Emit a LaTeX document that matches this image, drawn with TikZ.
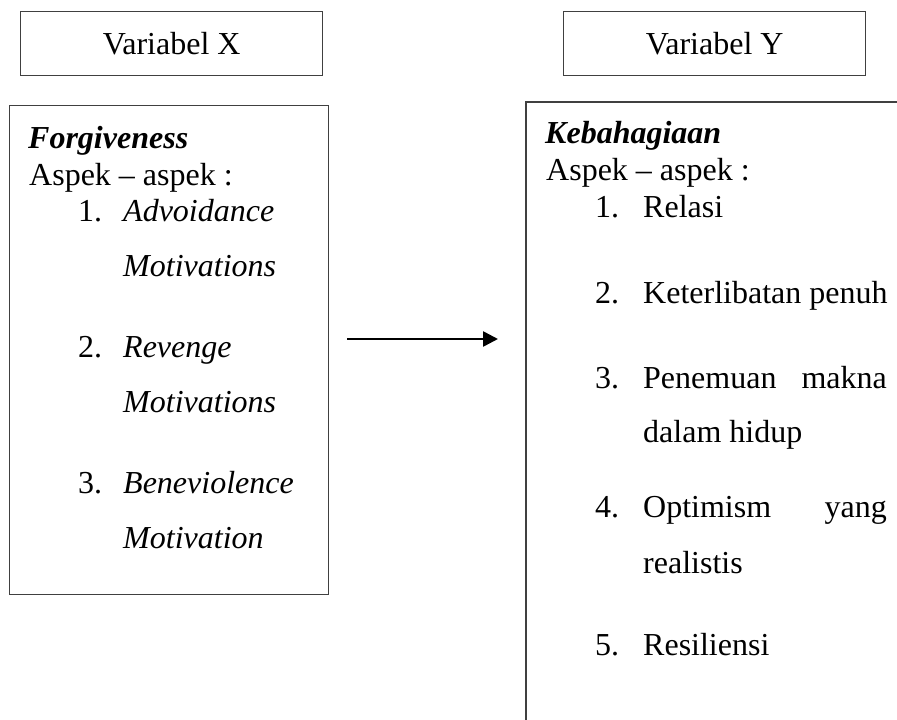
\documentclass[tikz,border=0pt]{standalone}
\usepackage{fontspec}
\setmainfont{Liberation Serif}
\usetikzlibrary{arrows.meta}
\begin{document}
\begin{tikzpicture}[x=1pt,y=-1pt,
  txt/.style={font=\fontsize{32}{38}\selectfont, inner sep=0pt, anchor=base west},
  txtr/.style={font=\fontsize{32}{38}\selectfont, inner sep=0pt, anchor=base east},
  boxline/.style={draw=black!75, line width=1.3pt},
  varbox/.style={boxline, font=\fontsize{32}{38}\selectfont, inner sep=0pt, minimum width=302pt, minimum height=64pt, anchor=north west},
  arrowline/.style={line width=2.6pt, -{Triangle[length=15pt,width=15pt]}}]
\useasboundingbox (0,0) rectangle (897,720);
% top variable boxes
\node[varbox] (vx) at (20,11) {Variabel X};
\node[varbox] (vy) at (563,11) {Variabel Y};
% left box
\node[boxline, inner sep=0pt, minimum width=319pt, minimum height=489pt, anchor=north west] (lbox) at (9,105) {};
% right box (cut at the page edges)
\coordinate (rb1) at (526,720);
\coordinate (rb2) at (526,102);
\coordinate (rb3) at (897,102);
\draw[boxline] (rb1) -- (rb2) -- (rb3);
% left texts
\node[txt] (l0) at (28,148) {\textbf{\textit{Forgiveness}}};
\node[txt] (l1) at (29,185) {Aspek – aspek :};
\node[txt] (l2n) at (78,221) {1.};
\node[txt] (l2) at (123,221) {\textit{Advoidance}};
\node[txt] (l3) at (123,276) {\textit{Motivations}};
\node[txt] (l4n) at (78,357) {2.};
\node[txt] (l4) at (123,357) {\textit{Revenge}};
\node[txt] (l5) at (123,412) {\textit{Motivations}};
\node[txt] (l6n) at (78,493) {3.};
\node[txt] (l6) at (123,493) {\textit{Beneviolence}};
\node[txt] (l7) at (123,548) {\textit{Motivation}};
% right texts
\node[txt] (r0) at (545,143) {\textbf{\textit{Kebahagiaan}}};
\node[txt] (r1) at (546,180) {Aspek – aspek :};
\node[txt] (r2n) at (595,217) {1.};
\node[txt] (r2) at (643,217) {Relasi};
\node[txt] (r3n) at (595,303) {2.};
\node[txt] (r3) at (643,303) {Keterlibatan penuh};
\node[txt] (r4n) at (595,388) {3.};
\node[txt] (r4) at (643,388) {Penemuan};
\node[txtr] (r4b) at (887,388) {makna};
\node[txt] (r5) at (643,442) {dalam hidup};
\node[txt] (r6n) at (595,517) {4.};
\node[txt] (r6) at (643,517) {Optimism};
\node[txtr] (r6b) at (887,517) {yang};
\node[txt] (r7) at (643,573) {realistis};
\node[txt] (r8n) at (595,655) {5.};
\node[txt] (r8) at (643,655) {Resiliensi};
% arrow
\coordinate (arrS) at (347,339);
\coordinate (arrE) at (498,339);
\draw[arrowline] (arrS) -- (arrE);
\end{tikzpicture}
\end{document}
